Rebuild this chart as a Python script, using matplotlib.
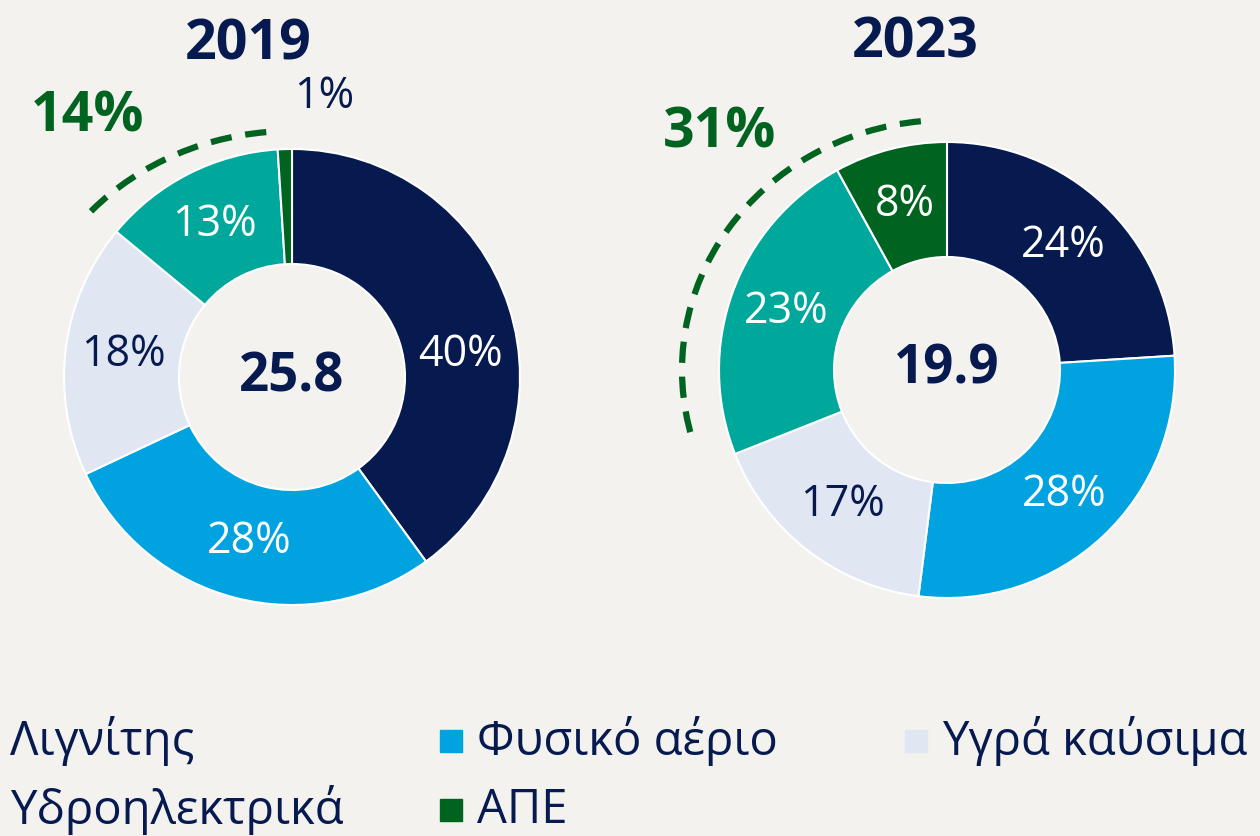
import numpy as np
import matplotlib.pyplot as plt
from matplotlib.patches import Arc, Rectangle

plt.rcParams['font.family'] = ['Open Sans', 'DejaVu Sans']

# data
years = ["2019", "2023"]
categories = ["Λιγνίτης", "Φυσικό αέριο", "Υγρά καύσιμα", "Υδροηλεκτρικά", "ΑΠΕ"]
shares_2019 = [40, 28, 18, 13, 1]
shares_2023 = [24, 28, 17, 23, 8]
totals = [25.8, 19.9]

colors = ["#061A4F", "#00A3E0", "#E0E7F3", "#00A89C", "#006420"]
navy = "#061A4F"
green = "#006420"
bg = "#F3F2EF"

W, H = 1260, 836
fig = plt.figure(figsize=(W / 100, H / 100), dpi=100, facecolor=bg)
ax = fig.add_axes([0, 0, 1, 1])
ax.set_facecolor(bg)

R, hole = 228, 113
centers = [(292, H - 377), (947, H - 370)]
title_pos = [(248, H - 45), (915, H - 43)]
green_pos = [(88, H - 117), (720, H - 133)]
arc_wh = [(544, 492), (530, 500)]
arc_end = [143, 195]
# manual nudges of label angle (deg) / radius for a few wedges
label_override = {(0, 0): (7.5, 170), (0, 2): (172.5, 170), (0, 4): (83.5, 282)}

for k, shares in enumerate([shares_2019, shares_2023]):
    cx, cy = centers[k]
    ax.pie(shares, colors=colors, startangle=90, counterclock=False,
           center=(cx, cy), radius=R, frame=True,
           wedgeprops=dict(width=R - hole, edgecolor="white", linewidth=1.5))

    cum = 0
    for i, s in enumerate(shares):
        ang = 90 - 360 * (cum + s / 2) / 100
        r = (R + hole) / 2
        if (k, i) in label_override:
            ang, r = label_override[(k, i)]
        cum += s
        col = "white"
        if i == 2 or r > R:
            col = navy
        ax.text(cx + r * np.cos(np.radians(ang)), cy + r * np.sin(np.radians(ang)),
                f"{s}%", ha="center", va="center", fontsize=31, color=col)

    ax.text(cx, cy, f"{totals[k]}", ha="center", va="center", fontsize=38,
            fontweight="bold", color=navy)
    ax.text(*title_pos[k], years[k], ha="center", va="center", fontsize=40,
            fontweight="bold", color=navy)

    # renewables (hydro + RES) share with dashed arc
    ren = shares[3] + shares[4]
    ax.add_patch(Arc((cx, cy), *arc_wh[k], theta1=96, theta2=arc_end[k],
                     color=green, lw=4.5, linestyle=(0, (3.4, 2.2))))
    ax.text(*green_pos[k], f"{ren}%", ha="center", va="center", fontsize=40,
            fontweight="bold", color=green)

# legend drawn by hand (first column marker falls off the left edge)
col_x = [-27, 440, 905]
row_y = [H - 741, H - 810]
for i, name in enumerate(categories):
    row, col = divmod(i, 3)
    x, y = col_x[col], row_y[row]
    ax.add_patch(Rectangle((x, y - 11), 22, 22, color=colors[i], clip_on=False))
    ax.text(x + 37, y, name, ha="left", va="center", fontsize=34, color=navy)

ax.set_xlim(0, W)
ax.set_ylim(0, H)
ax.set_aspect("equal")
ax.axis("off")

fig.savefig("out.png", dpi=100, facecolor=bg)
